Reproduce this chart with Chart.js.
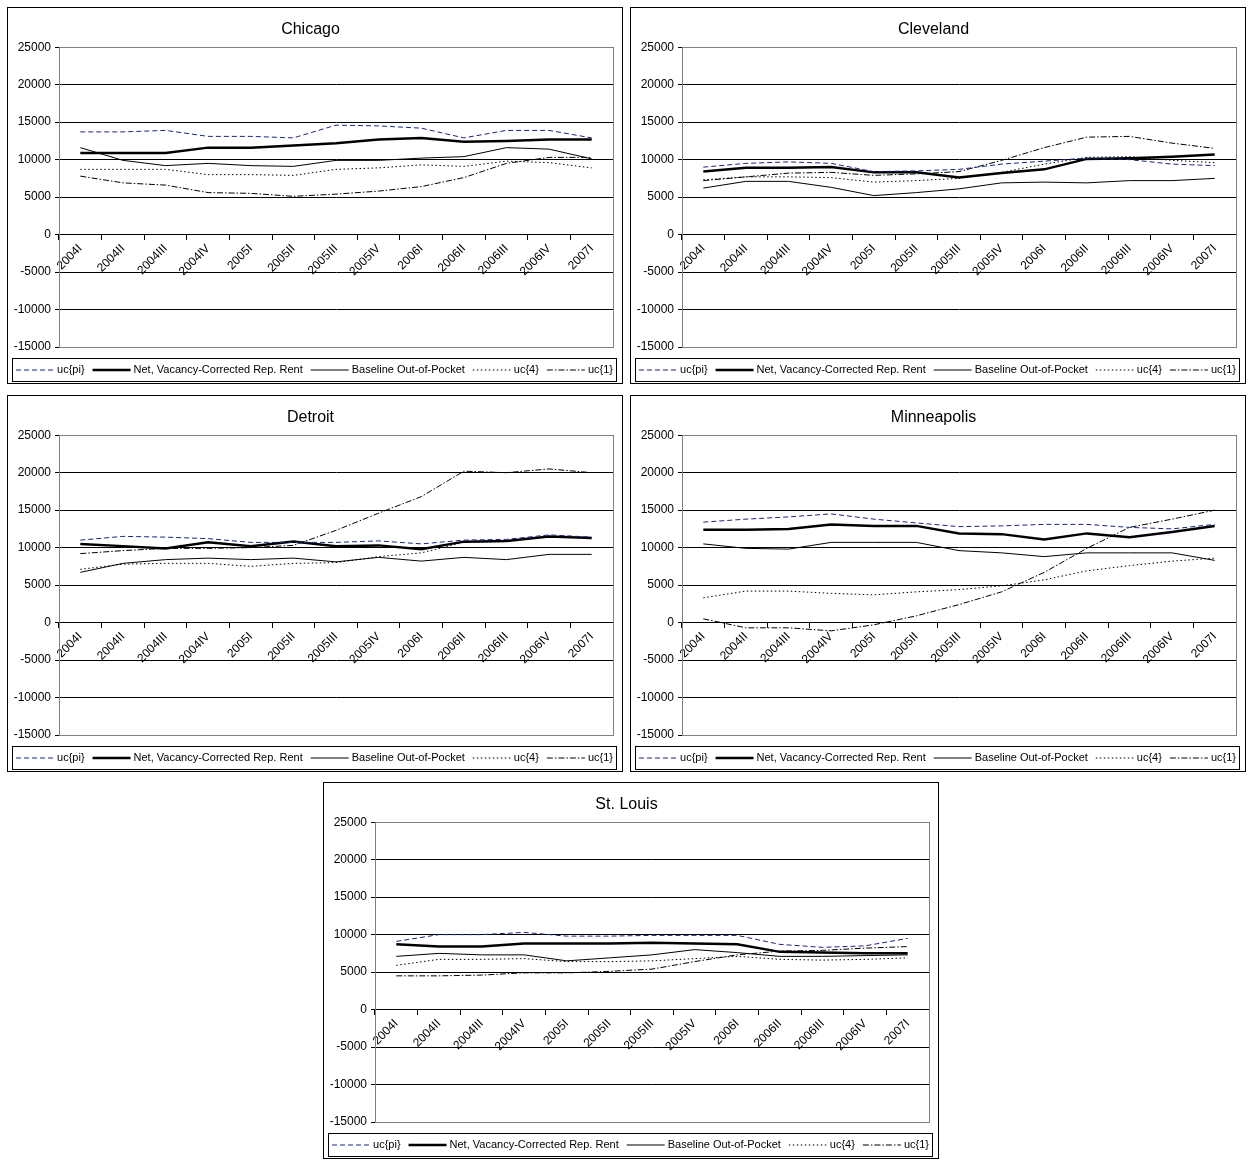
<!DOCTYPE html>
<html>
<head>
<meta charset="utf-8">
<script src="https://cdn.jsdelivr.net/npm/chart.js@4"></script>
<style>
  body { margin: 0; background: #fff; width: 1249px; height: 1160px; position: relative; }
  .panel { position: absolute; border: 1px solid #000; width: 614px; height: 375px; background: #fff; }
  canvas { display: block; }
</style>
</head>
<body>
<div class="panel" style="left:7px;top:7px"><canvas id="c0" width="614" height="375"></canvas></div>
<div class="panel" style="left:630px;top:7px"><canvas id="c1" width="614" height="375"></canvas></div>
<div class="panel" style="left:7px;top:395px"><canvas id="c2" width="614" height="375"></canvas></div>
<div class="panel" style="left:630px;top:395px"><canvas id="c3" width="614" height="375"></canvas></div>
<div class="panel" style="left:323px;top:782px"><canvas id="c4" width="614" height="375"></canvas></div>
<script>
const quarters = ["2004I", "2004II", "2004III", "2004IV", "2005I", "2005II", "2005III",
  "2005IV", "2006I", "2006II", "2006III", "2006IV", "2007I"]
const seriesNames = ["uc{pi}", "Net, Vacancy-Corrected Rep. Rent", "Baseline Out-of-Pocket", "uc{4}", "uc{1}"]
const cities = ["Chicago", "Cleveland", "Detroit", "Minneapolis", "St. Louis"]

const chicagoPi = [13700, 13700, 13900, 13100, 13100, 12900, 14600, 14500, 14200, 12900, 13900, 13900, 12900]
const chicagoNet = [10900, 10900, 10900, 11600, 11600, 11900, 12200, 12700, 12900, 12400, 12500, 12700, 12700]
const chicagoBase = [11600, 9900, 9200, 9500, 9200, 9100, 9900, 9900, 10200, 10400, 11600, 11400, 10100]
const chicagoUc4 = [8700, 8700, 8700, 8000, 8000, 7900, 8700, 8900, 9300, 9100, 9800, 9600, 8900]
const chicagoUc1 = [7800, 6900, 6600, 5600, 5500, 5100, 5400, 5800, 6400, 7600, 9500, 10300, 10300]

const clevelandPi = [9000, 9500, 9700, 9500, 8400, 8500, 8700, 9400, 9800, 10200, 10000, 9400, 9200]
const clevelandNet = [8400, 8900, 8900, 9000, 8300, 8300, 7600, 8200, 8700, 10100, 10200, 10400, 10700]
const clevelandBase = [6200, 7100, 7100, 6300, 5200, 5600, 6100, 6900, 7000, 6900, 7200, 7200, 7500]
const clevelandUc4 = [7300, 7700, 7700, 7600, 7000, 7200, 7500, 8300, 9400, 10300, 10400, 9900, 9600]
const clevelandUc1 = [7200, 7700, 8200, 8300, 7900, 8100, 8400, 9900, 11600, 13000, 13100, 12200, 11500]

const detroitPi = [11000, 11500, 11400, 11200, 10700, 10700, 10700, 10900, 10500, 11000, 11100, 11700, 11400]
const detroitNet = [10500, 10200, 9900, 10700, 10200, 10800, 10200, 10300, 9800, 10800, 10900, 11500, 11300]
const detroitBase = [6700, 7900, 8400, 8600, 8400, 8600, 8100, 8700, 8200, 8700, 8400, 9100, 9100]
const detroitUc4 = [7100, 7800, 7900, 7900, 7500, 7900, 8000, 8800, 9300, 10700, 10800, 11500, 11300]
const detroitUc1 = [9200, 9600, 9900, 9900, 10000, 10300, 12300, 14600, 16800, 20200, 20000, 20500, 20000]

const minneapolisPi = [13400, 13800, 14100, 14500, 13800, 13300, 12800, 12900, 13100, 13100, 12700, 12500, 13100]
const minneapolisNet = [12400, 12400, 12500, 13100, 12900, 12900, 11900, 11800, 11100, 11900, 11400, 12100, 12900]
const minneapolisBase = [10500, 9900, 9800, 10700, 10700, 10700, 9600, 9300, 8800, 9300, 9300, 9300, 8300]
const minneapolisUc4 = [3300, 4200, 4200, 3900, 3700, 4100, 4400, 4900, 5700, 6900, 7600, 8200, 8600]
const minneapolisUc1 = [500, -700, -700, -1100, -300, 900, 2400, 4100, 6700, 9900, 12700, 13800, 15000]

const stlouisPi = [9100, 10000, 10000, 10300, 9800, 9800, 9900, 9900, 9900, 8700, 8300, 8500, 9500]
const stlouisNet = [8700, 8400, 8400, 8800, 8800, 8800, 8900, 8800, 8700, 7700, 7600, 7500, 7500]
const stlouisBase = [7100, 7500, 7300, 7300, 6500, 6900, 7300, 8000, 7600, 7100, 7100, 7200, 7300]
const stlouisUc4 = [5900, 6700, 6700, 6800, 6400, 6400, 6500, 6800, 7100, 6700, 6600, 6700, 6900]
const stlouisUc1 = [4500, 4500, 4600, 4900, 4900, 5100, 5400, 6400, 7300, 7800, 7900, 8200, 8400]

const cityData = [
  [chicagoPi, chicagoNet, chicagoBase, chicagoUc4, chicagoUc1],
  [clevelandPi, clevelandNet, clevelandBase, clevelandUc4, clevelandUc1],
  [detroitPi, detroitNet, detroitBase, detroitUc4, detroitUc1],
  [minneapolisPi, minneapolisNet, minneapolisBase, minneapolisUc4, minneapolisUc1],
  [stlouisPi, stlouisNet, stlouisBase, stlouisUc4, stlouisUc1]
]

const styles = [
  { color: "#1a237e", width: 1, dash: [5, 3] },
  { color: "#000", width: 2.5, dash: [] },
  { color: "#000", width: 1, dash: [] },
  { color: "#000", width: 1, dash: [1.5, 2.5] },
  { color: "#000", width: 1, dash: [6, 2, 1.5, 2] }
]

Chart.defaults.font.family = "'Liberation Sans', Arial, sans-serif"
Chart.defaults.color = "#000"

// plot frame plus a boxed legend along the bottom
const frames = {
  id: "frames",
  afterDraw(chart) {
    const ctx = chart.ctx
    const a = chart.chartArea
    ctx.save()
    ctx.strokeStyle = "#808080"
    ctx.lineWidth = 1
    ctx.strokeRect(Math.round(a.left) + 0.5, Math.round(a.top) + 0.5, Math.round(a.right - a.left), Math.round(a.bottom - a.top))

    const top = 350, h = 23
    ctx.strokeStyle = "#000"
    ctx.strokeRect(4.5, top + 0.5, chart.width - 10, h)
    ctx.font = "11px 'Liberation Sans', Arial, sans-serif"
    ctx.textBaseline = "middle"
    const lineW = 38, gap = 3, itemGap = 8
    const sets = chart.data.datasets
    let total = 0
    sets.forEach(d => { total += lineW + gap + ctx.measureText(d.label).width + itemGap })
    total -= itemGap
    let x = 4 + (chart.width - 9 - total) / 2
    const y = top + h / 2 + 0.5
    sets.forEach(d => {
      ctx.beginPath()
      ctx.setLineDash(d.borderDash)
      ctx.strokeStyle = d.borderColor
      ctx.lineWidth = d.borderWidth
      ctx.moveTo(x, y)
      ctx.lineTo(x + lineW, y)
      ctx.stroke()
      ctx.setLineDash([])
      x += lineW + gap
      ctx.fillStyle = "#000"
      ctx.fillText(d.label, x, y)
      x += ctx.measureText(d.label).width + itemGap
    })
    ctx.restore()
  }
}

cities.forEach((city, i) => {
  const datasets = cityData[i].map((values, k) => ({
    label: seriesNames[k],
    data: values,
    borderColor: styles[k].color,
    borderWidth: styles[k].width,
    borderDash: styles[k].dash,
    pointRadius: 0,
    tension: 0,
    fill: false
  }))

  new Chart(document.getElementById("c" + i), {
    type: "line",
    data: { labels: quarters, datasets },
    plugins: [frames],
    options: {
      responsive: false,
      animation: false,
      devicePixelRatio: 1,
      layout: { padding: { top: 0, right: 9, bottom: 36, left: 0 } },
      plugins: {
        title: { display: true, text: city, font: { size: 16, weight: "normal" }, padding: { top: 12, bottom: 8 } },
        tooltip: { enabled: false },
        legend: { display: false }
      },
      scales: {
        x: {
          position: { y: 0 },
          offset: true,
          grid: { drawOnChartArea: false, drawTicks: true, tickLength: 5, color: "#000", offset: true },
          border: { color: "#000" },
          ticks: { minRotation: 45, maxRotation: 45, autoSkip: false, font: { size: 12 }, padding: 2 }
        },
        y: {
          min: -15000,
          max: 25000,
          afterFit: s => { s.width = 51 },
          ticks: { stepSize: 5000, font: { size: 12 }, padding: 4, callback: v => String(v) },
          grid: { color: "#000", drawTicks: true, tickLength: 4 },
          border: { color: "#000" }
        }
      }
    }
  })
})
</script>
</body>
</html>
